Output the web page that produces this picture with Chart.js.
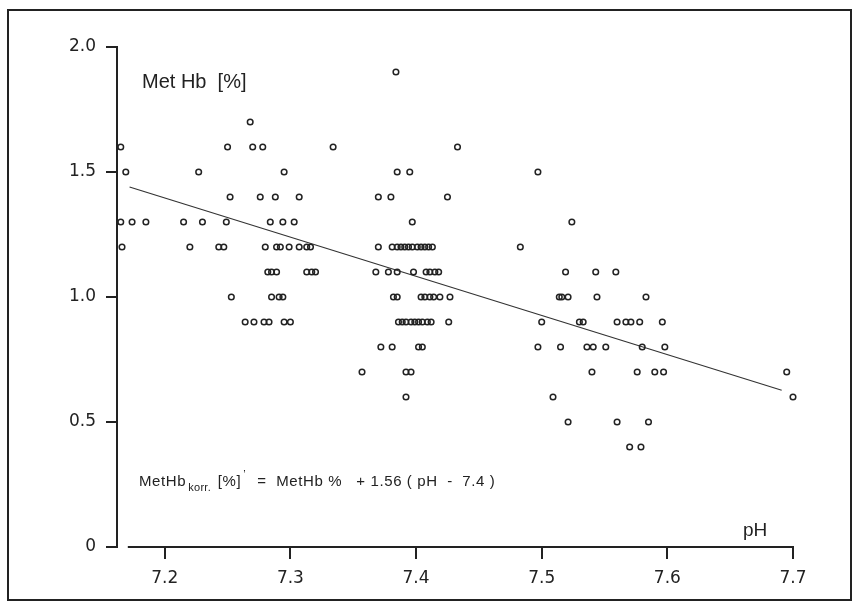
<!DOCTYPE html>
<html>
<head>
<meta charset="utf-8">
<script src="https://cdn.jsdelivr.net/npm/chart.js@4.4.0/dist/chart.umd.min.js"></script>
<style>
  html, body { margin: 0; padding: 0; background: #fff; }
  canvas { display: block; }
</style>
</head>
<body>
<canvas id="methbChart" width="857" height="608"></canvas>
<script>
// MetHb [%] against pH (values sit on 0.1 steps)
const phValues = [
  7.384,
  7.268,
  7.165, 7.250, 7.270, 7.278, 7.334, 7.433,
  7.169, 7.227, 7.295, 7.385, 7.395, 7.497,
  7.252, 7.276, 7.288, 7.307, 7.370, 7.380, 7.425,
  7.165, 7.174, 7.185, 7.215, 7.230, 7.249, 7.284, 7.294, 7.303, 7.397, 7.524,
  7.166, 7.220, 7.243, 7.247, 7.280, 7.289, 7.292, 7.299, 7.307, 7.313, 7.316, 7.370,
  7.381, 7.385, 7.388, 7.391, 7.394, 7.397, 7.401, 7.404, 7.407, 7.410, 7.413, 7.483,
  7.282, 7.285, 7.289, 7.313, 7.317, 7.320, 7.368, 7.378, 7.385, 7.398,
  7.408, 7.411, 7.415, 7.418, 7.519, 7.543, 7.559,
  7.253, 7.285, 7.291, 7.294, 7.382, 7.385, 7.404, 7.407, 7.411, 7.414, 7.419, 7.427,
  7.514, 7.516, 7.521, 7.544, 7.583,
  7.264, 7.271, 7.279, 7.283, 7.295, 7.300, 7.386, 7.389, 7.392, 7.396, 7.399, 7.402,
  7.405, 7.409, 7.412, 7.426, 7.500, 7.530, 7.533, 7.560, 7.567, 7.571, 7.578, 7.596,
  7.372, 7.381, 7.402, 7.405, 7.497, 7.515, 7.536, 7.541, 7.551, 7.580, 7.598,
  7.357, 7.392, 7.396, 7.540, 7.576, 7.590, 7.597, 7.695,
  7.392, 7.509, 7.700,
  7.521, 7.560, 7.585,
  7.570, 7.579
];
const metHbValues = [
  1.9,
  1.7,
  1.6, 1.6, 1.6, 1.6, 1.6, 1.6,
  1.5, 1.5, 1.5, 1.5, 1.5, 1.5,
  1.4, 1.4, 1.4, 1.4, 1.4, 1.4, 1.4,
  1.3, 1.3, 1.3, 1.3, 1.3, 1.3, 1.3, 1.3, 1.3, 1.3, 1.3,
  1.2, 1.2, 1.2, 1.2, 1.2, 1.2, 1.2, 1.2, 1.2, 1.2, 1.2, 1.2,
  1.2, 1.2, 1.2, 1.2, 1.2, 1.2, 1.2, 1.2, 1.2, 1.2, 1.2, 1.2,
  1.1, 1.1, 1.1, 1.1, 1.1, 1.1, 1.1, 1.1, 1.1, 1.1,
  1.1, 1.1, 1.1, 1.1, 1.1, 1.1, 1.1,
  1.0, 1.0, 1.0, 1.0, 1.0, 1.0, 1.0, 1.0, 1.0, 1.0, 1.0, 1.0,
  1.0, 1.0, 1.0, 1.0, 1.0,
  0.9, 0.9, 0.9, 0.9, 0.9, 0.9, 0.9, 0.9, 0.9, 0.9, 0.9, 0.9,
  0.9, 0.9, 0.9, 0.9, 0.9, 0.9, 0.9, 0.9, 0.9, 0.9, 0.9, 0.9,
  0.8, 0.8, 0.8, 0.8, 0.8, 0.8, 0.8, 0.8, 0.8, 0.8, 0.8,
  0.7, 0.7, 0.7, 0.7, 0.7, 0.7, 0.7, 0.7,
  0.6, 0.6, 0.6,
  0.5, 0.5, 0.5,
  0.4, 0.4
];

// regression line, end points
const fitPh = [7.172, 7.691];
const fitMetHb = [1.44, 0.627];

// axes
const xTicks = [7.2, 7.3, 7.4, 7.5, 7.6, 7.7];
const xTickLabels = ['7.2', '7.3', '7.4', '7.5', '7.6', '7.7'];
const yTicks = [0, 0.5, 1.0, 1.5, 2.0];
const yTickLabels = ['0', '0.5', '1.0', '1.5', '2.0'];
const xAxisStart = 7.1706; // the x axis line starts a little right of the y axis

const ink = '#222';

// frame, detached x axis line and the texts inside the plot
const decorations = {
  id: 'decorations',
  beforeDraw(chart) {
    const c = chart.ctx;
    c.save();
    c.fillStyle = '#fff';
    c.fillRect(0, 0, chart.width, chart.height);
    c.strokeStyle = ink;
    c.lineWidth = 2;
    c.strokeRect(8, 10, 843, 590);
    c.restore();
  },
  afterDraw(chart) {
    const c = chart.ctx;
    const xs = chart.scales.x;
    const ys = chart.scales.y;
    const y0 = ys.getPixelForValue(0);
    c.save();
    c.strokeStyle = ink;
    c.lineWidth = 2;
    c.beginPath();
    c.moveTo(xs.getPixelForValue(xAxisStart), y0);
    c.lineTo(xs.getPixelForValue(7.7) + 1, y0);
    c.stroke();

    c.fillStyle = ink;
    c.textBaseline = 'alphabetic';
    c.font = '20px "Liberation Sans"';
    c.fillText('Met Hb  [%]', 142, 88);

    c.font = '19px "Liberation Sans"';
    c.fillText('pH', 743, 536);

    // formula with subscript and prime
    let x = 139;
    const base = 486;
    const parts = [
      ['MetHb', '15px "Liberation Sans"', 0, 0.6],
      ['korr.', '11px "Liberation Sans"', 5, 0.3],
      [' [%]', '15px "Liberation Sans"', 0, 0.6],
      ['\u2019', '11px "Liberation Sans"', -8, 0],
      ['  =  MetHb %   + 1.56 ( pH  -  7.4 )', '15px "Liberation Sans"', 0, 0.6]
    ];
    for (const [t, f, dy, sp] of parts) {
      c.font = f;
      c.letterSpacing = sp + 'px';
      c.fillText(t, x, base + dy);
      x += c.measureText(t).width + 2;
    }
    c.restore();
  }
};

new Chart(document.getElementById('methbChart'), {
  type: 'scatter',
  data: {
    datasets: [
      {
        label: 'MetHb',
        data: phValues.map((p, i) => ({ x: p, y: metHbValues[i] })),
        pointStyle: 'circle',
        pointRadius: 2.8,
        pointBorderWidth: 1.5,
        borderColor: ink,
        backgroundColor: 'rgba(0,0,0,0)',
        showLine: false,
        clip: false
      },
      {
        type: 'line',
        label: 'fit',
        data: fitPh.map((p, i) => ({ x: p, y: fitMetHb[i] })),
        borderColor: '#333',
        borderWidth: 1.2,
        pointRadius: 0,
        fill: false
      }
    ]
  },
  options: {
    responsive: false,
    animation: false,
    devicePixelRatio: 1,
    layout: { padding: { left: 0, right: 64, top: 47, bottom: 0 } },
    plugins: {
      legend: { display: false },
      tooltip: { enabled: false }
    },
    scales: {
      x: {
        type: 'linear',
        min: 7.162,
        max: 7.7,
        afterBuildTicks: s => { s.ticks = xTicks.map(v => ({ value: v })); },
        afterFit: s => { s.height = 61; },
        ticks: {
          callback: (v, i) => xTickLabels[i],
          font: { family: 'DejaVu Sans', size: 17 },
          color: ink,
          padding: 9,
          maxRotation: 0,
          autoSkip: false
        },
        grid: { drawOnChartArea: false, drawTicks: true, tickLength: 12, color: ink, lineWidth: 2 },
        border: { display: false }
      },
      y: {
        type: 'linear',
        min: 0,
        max: 2,
        afterBuildTicks: s => { s.ticks = yTicks.map(v => ({ value: v })); },
        afterFit: s => { s.width = 117; },
        ticks: {
          callback: (v, i) => yTickLabels[i],
          font: { family: 'DejaVu Sans', size: 17 },
          color: ink,
          padding: 10,
          autoSkip: false
        },
        grid: { drawOnChartArea: false, drawTicks: true, tickLength: 11, color: ink, lineWidth: 2 },
        border: { display: true, color: ink, width: 2 }
      }
    }
  },
  plugins: [decorations]
});
</script>
</body>
</html>
